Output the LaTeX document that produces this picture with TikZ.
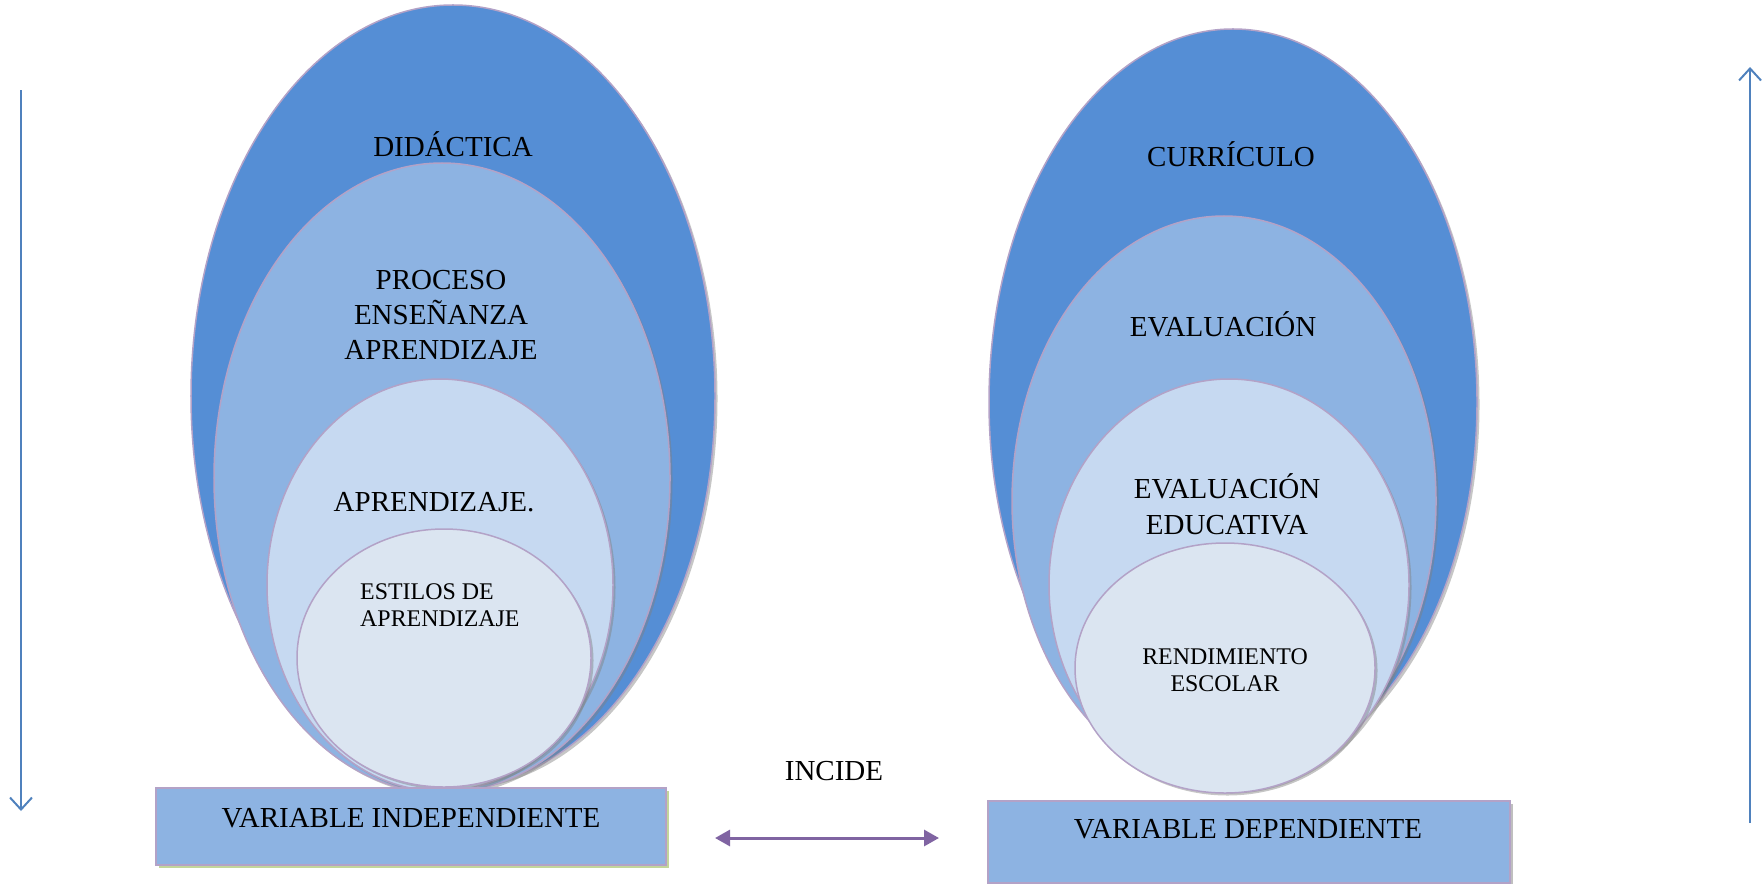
\documentclass[tikz,border=0pt]{standalone}
\usepackage{fontspec}
\setmainfont{Liberation Serif}
\usetikzlibrary{shapes.geometric,arrows.meta,shadows}

\definecolor{azulfuerte}{RGB}{85,142,213}
\definecolor{azulmedio}{RGB}{141,179,226}
\definecolor{azulclaro}{RGB}{198,217,241}
\definecolor{azulpalido}{RGB}{219,229,241}
\definecolor{lila}{RGB}{179,162,199}
\definecolor{flecha}{RGB}{79,129,189}
\definecolor{morado}{RGB}{128,100,162}
\definecolor{verdoso}{RGB}{195,214,155}

\begin{document}
\begin{tikzpicture}[%
        x=0.2mm, y=-0.2mm,
        myell/.style={shape=ellipse, draw=lila, line width=0.3mm, inner sep=0pt,
            drop shadow={shadow xshift=0.5mm, shadow yshift=-0.5mm, opacity=0.45}},
        mybox/.style={shape=rectangle, draw=lila, line width=0.4mm, fill=azulmedio, inner sep=0pt},
        mytext/.style={align=center, font=\fontsize{16.5}{20}\selectfont},
        mysmall/.style={font=\fontsize{13.6}{15.6}\selectfont},
        myarrow/.style={draw=flecha, line width=0.4mm, -{Straight Barb[length=2.4mm,width=4.4mm]}}
    ]
        \useasboundingbox (0,0) rectangle (1762,883);

        % variable independiente
        \foreach \n/\x/\y/\w/\h/\c in
            {l1/453/396/104.8/156.4/azulfuerte, l2/442/478/91.2/126/azulmedio,
             l3/440/585/69.2/82.4/azulclaro, l4/444/658/58.8/51.6/azulpalido}
            \node [myell, fill=\c, minimum width=\w mm, minimum height=\h mm] (\n) at (\x,\y) {};

        \node [mytext] (did) at (453,144) {DIDÁCTICA};
        \node [mytext] (pea) at (441,315) {PROCESO\\ENSEÑANZA\\APRENDIZAJE};
        \node [mytext] (apr) at (434,502) {APRENDIZAJE.};
        \node [mytext, mysmall, align=left, anchor=west] (est) at (354,605) {ESTILOS DE\\APRENDIZAJE};

        % variable dependiente
        \foreach \n/\x/\y/\w/\h/\c in
            {r1/1233/402/97.6/149.2/azulfuerte, r2/1224/501/84.8/114/azulmedio,
             r3/1229/585/72/82.4/azulclaro, r4/1225/668/60/50/azulpalido}
            \node [myell, fill=\c, minimum width=\w mm, minimum height=\h mm] (\n) at (\x,\y) {};

        \node [mytext] (cur) at (1231,154) {CURRÍCULO};
        \node [mytext] (eva) at (1223,324) {EVALUACIÓN};
        \node [mytext, font=\fontsize{16.5}{20.5}\selectfont] (edu) at (1227,504) {EVALUACIÓN\\EDUCATIVA};
        \node [mytext, mysmall] (ren) at (1225,670) {RENDIMIENTO\\ESCOLAR};

        % cajas
        \node [mybox, minimum width=102mm, minimum height=15.4mm,
            drop shadow={shadow xshift=0.6mm, shadow yshift=-0.6mm, fill=verdoso, opacity=1}] (vi) at (411,826) {};
        \node [mytext] (vitxt) at (411,818) {VARIABLE INDEPENDIENTE};
        \node [mybox, minimum width=104.4mm, minimum height=16.4mm,
            drop shadow={shadow xshift=0.6mm, shadow yshift=-0.6mm, fill=black!25, opacity=1}] (vd) at (1249,842) {};
        \node [mytext] (vdtxt) at (1248,829) {VARIABLE DEPENDIENTE};

        % incide
        \node [mytext] (inc) at (834,771) {INCIDE};
        \coordinate (p1) at (715,838);
        \coordinate (p2) at (939,838);
        \draw [draw=morado, line width=0.6mm,
            {Triangle[length=3mm,width=3.2mm]}-{Triangle[length=3mm,width=3.2mm]}] (p1) -- (p2);

        % flechas laterales
        \coordinate (a1) at (21,90);
        \coordinate (a2) at (21,811);
        \coordinate (b1) at (1750,823);
        \coordinate (b2) at (1750,67);
        \draw [myarrow] (a1) -- (a2);
        \draw [myarrow] (b1) -- (b2);
    \end{tikzpicture}
\end{document}
